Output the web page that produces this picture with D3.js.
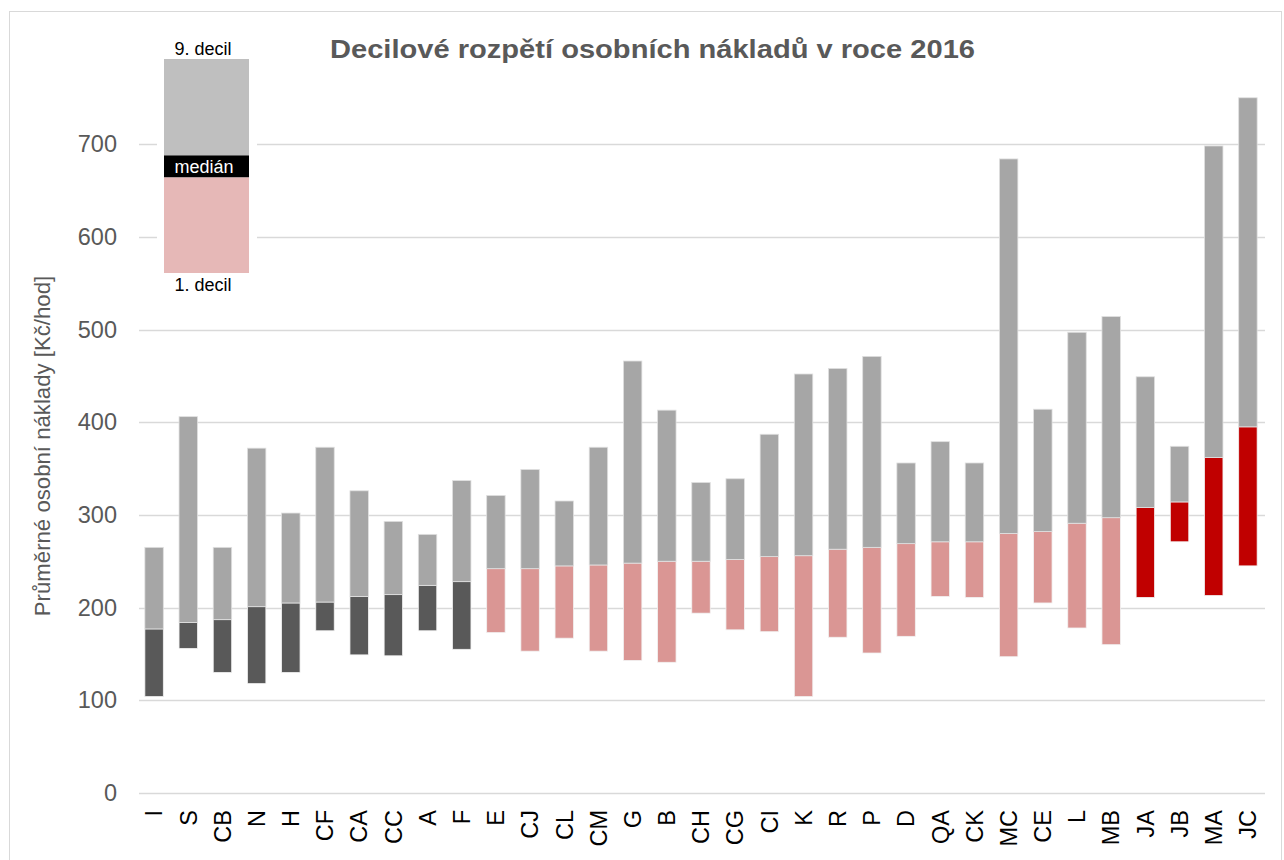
<!DOCTYPE html>
<html>
<head>
<meta charset="utf-8">
<script src="https://cdn.jsdelivr.net/npm/d3@7"></script>
<style>
    body { margin: 0; background: #fff; }
    svg { font-family: "Liberation Sans", Arial, sans-serif; }
</style>
</head>
<body>
<svg id="chart" width="1284" height="860"></svg>
<script>
// values
const categories = ['I', 'S', 'CB', 'N', 'H', 'CF', 'CA', 'CC', 'A', 'F',
    'E', 'CJ', 'CL', 'CM', 'G', 'B', 'CH', 'CG', 'CI', 'K', 'R', 'P', 'D', 'QA', 'CK',
    'MC', 'CE', 'L', 'MB', 'JA', 'JB', 'MA', 'JC'];
const decil1 = [104, 156, 130, 118, 130, 175, 149, 148, 175, 155,
    173, 153, 167, 153, 143, 141, 194, 176, 174, 104, 168, 151, 169, 212, 211,
    147, 205, 178, 160, 211, 271, 213, 245];
const median = [177, 184, 187, 201, 205, 206, 212, 214, 224, 228,
    242, 242, 245, 246, 248, 250, 250, 252, 255, 256, 263, 265, 269, 271, 271,
    280, 282, 291, 297, 308, 314, 362, 395];
const decil9 = [265, 406, 265, 372, 302, 373, 326, 293, 279, 337,
    321, 349, 315, 373, 466, 413, 335, 339, 387, 452, 458, 471, 356, 379, 356,
    684, 414, 497, 514, 449, 374, 698, 750];
// 0 = dark, 1 = pink, 2 = red
const group = [0, 0, 0, 0, 0, 0, 0, 0, 0, 0,
    1, 1, 1, 1, 1, 1, 1, 1, 1, 1, 1, 1, 1, 1, 1, 1, 1, 1, 1,
    2, 2, 2, 2];
const yTicks = [0, 100, 200, 300, 400, 500, 600, 700];

const lowColors = ['#595959', '#da9694', '#c00000'];
const highColor = '#a6a6a6';

const svg = d3.select('#chart');

// outer frame
svg.append('rect')
    .attr('x', 9.5).attr('y', 11.5)
    .attr('width', 1272).attr('height', 860)
    .attr('fill', '#fff')
    .attr('stroke', '#d9d9d9');

const x = d3.scaleBand()
    .domain(categories)
    .range([137, 1265])
    .paddingInner(0.46)
    .paddingOuter(0.23);

const y = d3.scaleLinear()
    .domain([0, 800])
    .range([793, 793 - 741.6]);

// gridlines
svg.append('g')
    .selectAll('line')
    .data(yTicks)
    .enter()
    .append('line')
    .attr('x1', 139).attr('x2', 1265)
    .attr('y1', d => Math.round(y(d)) + 0.5)
    .attr('y2', d => Math.round(y(d)) + 0.5)
    .attr('stroke', '#d9d9d9')
    .attr('stroke-width', 1.3);

// y axis labels
const yAxis = d3.axisLeft(y)
    .tickValues(yTicks)
    .tickSize(0)
    .tickPadding(0);
const yAxisG = svg.append('g')
    .attr('transform', 'translate(117,0)')
    .call(yAxis);
yAxisG.select('.domain').remove();
yAxisG.selectAll('text')
    .attr('font-size', 23.5)
    .attr('fill', '#595959')
    .attr('font-family', '"Liberation Sans", Arial, sans-serif');

// y axis title
svg.append('text')
    .attr('transform', 'translate(50,446) rotate(-90)')
    .attr('text-anchor', 'middle')
    .attr('font-size', 22.2)
    .attr('fill', '#595959')
    .text('Průměrné osobní náklady [Kč/hod]');

// x axis labels
const xAxis = d3.axisBottom(x).tickSize(0).tickPadding(0);
const xAxisG = svg.append('g')
    .attr('transform', 'translate(0,810)')
    .call(xAxis);
xAxisG.select('.domain').remove();
xAxisG.selectAll('text')
    .attr('transform', 'rotate(-90)')
    .attr('text-anchor', 'end')
    .attr('x', 0)
    .attr('y', 0)
    .attr('dy', '0.35em')
    .attr('font-size', 23.5)
    .attr('fill', '#000')
    .attr('font-family', '"Liberation Sans", Arial, sans-serif');

// bars
const bars = svg.append('g');
categories.forEach((c, i) => {
    bars.append('rect')
        .attr('x', x(c))
        .attr('y', y(median[i]))
        .attr('width', x.bandwidth())
        .attr('height', y(decil1[i]) - y(median[i]))
        .attr('fill', lowColors[group[i]])
        .attr('stroke', '#f2f2f2')
        .attr('stroke-width', 0.8);
    bars.append('rect')
        .attr('x', x(c))
        .attr('y', y(decil9[i]))
        .attr('width', x.bandwidth())
        .attr('height', y(median[i]) - y(decil9[i]))
        .attr('fill', highColor)
        .attr('stroke', '#e0e0e0')
        .attr('stroke-width', 0.8);
});

// legend
const legend = svg.append('g');
legend.append('rect')
    .attr('x', 157).attr('y', 30)
    .attr('width', 100).attr('height', 265)
    .attr('fill', '#fff');
legend.append('rect')
    .attr('x', 164).attr('y', 59)
    .attr('width', 85).attr('height', 97)
    .attr('fill', '#bfbfbf');
legend.append('rect')
    .attr('x', 164).attr('y', 155.5)
    .attr('width', 85).attr('height', 22)
    .attr('fill', '#000');
legend.append('rect')
    .attr('x', 164).attr('y', 177.5)
    .attr('width', 85).attr('height', 95.5)
    .attr('fill', '#e6b8b7');
legend.append('text')
    .attr('x', 203).attr('y', 55)
    .attr('text-anchor', 'middle')
    .attr('font-size', 18)
    .attr('fill', '#000')
    .text('9. decil');
legend.append('text')
    .attr('x', 204).attr('y', 173)
    .attr('text-anchor', 'middle')
    .attr('font-size', 18)
    .attr('fill', '#fff')
    .text('medián');
legend.append('text')
    .attr('x', 203).attr('y', 291)
    .attr('text-anchor', 'middle')
    .attr('font-size', 18)
    .attr('fill', '#000')
    .text('1. decil');

// title
svg.append('text')
    .attr('x', 330).attr('y', 58)
    .attr('font-size', 26)
    .attr('font-weight', 'bold')
    .attr('fill', '#595959')
    .attr('textLength', 645)
    .attr('lengthAdjust', 'spacingAndGlyphs')
    .text('Decilové rozpětí osobních nákladů v roce 2016');
</script>
</body>
</html>
